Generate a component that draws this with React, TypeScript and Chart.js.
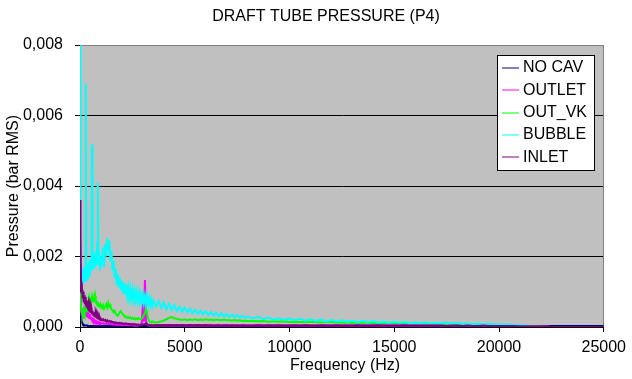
import React, { useEffect, useRef } from "react";
import { Chart, registerables } from "chart.js";

Chart.register(...registerables);

// Frequency (Hz)
const FREQ = [
  0, 25, 50, 75, 100, 125, 150, 175, 200, 225, 250, 275, 300, 325, 350, 375, 400, 425, 450, 475,
  500, 525, 550, 575, 600, 625, 650, 675, 700, 725, 750, 775, 800, 825, 850, 875, 900, 925, 950, 975, 1000,
  1050, 1100, 1150, 1200, 1250, 1300, 1350, 1400, 1450, 1500, 1550, 1600, 1650, 1700, 1750, 1800, 1850, 1900, 1950, 2000,
  2050, 2100, 2150, 2200, 2250, 2300, 2350, 2400, 2450, 2500, 2550, 2600, 2650, 2700, 2750, 2800, 2850, 2900, 2950, 3000,
  3050, 3100, 3150, 3200, 3250, 3300, 3350, 3400, 3450, 3500,
  3625, 3750, 3875, 4000, 4125, 4250, 4375, 4500, 4625, 4750, 4875, 5000, 5125, 5250, 5375, 5500, 5625, 5750,
  5875, 6000, 6125, 6250, 6375, 6500, 6625, 6750, 6875, 7000, 7125, 7250, 7375, 7500, 7625, 7750, 7875, 8000,
  8250, 8500, 8750, 9000, 9250, 9500, 9750, 10000, 10250, 10500, 10750, 11000, 11250, 11500, 11750, 12000,
  12250, 12500, 12750, 13000, 13250, 13500, 13750, 14000, 14250, 14500, 14750, 15000, 15250, 15500, 15750, 16000,
  16250, 16500, 16750, 17000, 17250, 17500, 17750, 18000, 18250, 18500, 18750, 19000, 19250, 19500, 19750, 20000,
  20250, 20500, 20750, 21000, 21250, 21500, 21750, 22000,
  22500, 23000, 23500, 24000, 24500, 25000,
];

// Pressure values in units of 1e-5 bar RMS
const UNIT = 1e-5;

const NO_CAV = [
  80, 45, 28, 18, 12, 9, 7, 6, 5, 5, 4, 4, 4, 4, 4, 3, 3, 3, 3, 3,
  3, 3, 3, 3, 3, 3, 3, 3, 3, 3, 3, 3, 3, 3, 3, 3, 3, 3, 3, 3, 3,
  3, 3, 3, 3, 3, 3, 3, 3, 3, 3, 3, 3, 3, 3, 3, 3, 3, 3, 3, 3,
  3, 3, 3, 3, 3, 3, 3, 3, 3, 3, 3, 3, 3, 3, 3, 3, 3, 3, 3, 3,
  3, 3, 3, 3, 3, 3, 3, 3, 3, 3,
  3, 3, 3, 3, 3, 3, 3, 3, 3, 3, 3, 3, 2, 3, 2, 3, 2, 3,
  2, 2, 2, 3, 2, 2, 2, 2, 2, 2, 2, 2, 2, 2, 2, 2, 2, 2,
  2, 2, 2, 2, 2, 2, 2, 2, 2, 2, 2, 2, 2, 2, 2, 2,
  2, 2, 2, 2, 2, 2, 2, 2, 2, 2, 2, 2, 2, 2, 2, 2,
  2, 2, 2, 2, 2, 2, 2, 2, 2, 2, 2, 2, 2, 2, 2, 2,
  2, 2, 2, 2, 2, 2, 2, 2,
  3, 3, 3, 3, 3, 3,
];

const OUTLET = [
  90, 60, 45, 40, 42, 38, 45, 40, 36, 40, 34, 38, 32, 35, 30, 33, 28, 30, 25, 28,
  24, 26, 22, 24, 20, 22, 18, 20, 17, 18, 15, 16, 14, 15, 13, 14, 12, 13, 11, 12, 11,
  10, 11, 9, 10, 9, 10, 8, 9, 8, 9, 7, 8, 7, 8, 6, 7, 6, 7, 6, 6,
  5, 6, 5, 6, 5, 5, 5, 6, 5, 5, 4, 5, 4, 5, 4, 5, 6, 6, 12, 67,
  15, 133, 18, 8, 5, 4, 4, 5, 4, 4,
  5, 4, 5, 4, 5, 4, 5, 4, 5, 4, 5, 4, 5, 4, 5, 4, 5, 4,
  5, 4, 4, 5, 4, 4, 5, 4, 4, 5, 4, 4, 5, 4, 4, 4, 5, 4,
  4, 5, 4, 4, 5, 4, 4, 5, 4, 4, 5, 4, 4, 4, 5, 4,
  4, 4, 5, 4, 4, 4, 4, 5, 4, 4, 4, 4, 5, 4, 4, 4,
  4, 4, 5, 4, 4, 4, 4, 4, 4, 4, 3, 4, 4, 3, 4, 3,
  3, 3, 3, 3, 3, 2, 2, 2,
  0, 0, 0, 0, 0, 0,
];

const OUT_VK = [
  100, 70, 55, 42, 38, 35, 42, 38, 46, 40, 48, 52, 45, 55, 60, 52, 66, 74, 68, 78,
  72, 84, 75, 86, 78, 80, 70, 82, 74, 88, 78, 68, 74, 62, 70, 60, 66, 58, 64, 56, 62,
  55, 62, 52, 58, 65, 55, 68, 58, 62, 50, 48, 42, 46, 38, 35, 32, 36, 42, 45, 40,
  36, 32, 28, 30, 26, 28, 25, 27, 24, 26, 23, 25, 22, 24, 22, 25, 23, 22, 24, 28,
  34, 40, 52, 42, 25, 17, 15, 14, 16, 14,
  13, 14, 16, 18, 22, 26, 28, 25, 23, 21, 20, 22, 19, 21, 20, 22, 19, 21,
  20, 22, 20, 21, 19, 21, 20, 19, 21, 19, 20, 18, 20, 18, 19, 17, 18, 17,
  17, 16, 17, 15, 16, 15, 16, 14, 15, 14, 15, 14, 14, 13, 14, 14,
  13, 13, 12, 13, 12, 12, 12, 11, 12, 11, 11, 11, 10, 11, 10, 11,
  10, 10, 9, 10, 9, 9, 9, 8, 8, 8, 7, 7, 6, 6, 5, 5,
  4, 4, 3, 3, 2, 2, 1, 1,
  0, 0, 0, 0, 0, 0,
];

const BUBBLE = [
  800, 260, 170, 135, 150, 120, 165, 125, 155, 130, 170, 691, 175, 130, 180, 135, 175, 140, 190, 145,
  180, 160, 195, 518, 200, 165, 210, 170, 200, 175, 215, 180, 205, 240, 410, 220, 175, 205, 160, 200, 170,
  190, 225, 170, 235, 200, 252, 215, 245, 185, 215, 160, 190, 140, 165, 120, 150, 112, 140, 105, 132,
  95, 125, 92, 120, 88, 112, 82, 108, 80, 104, 78, 100, 76, 98, 74, 96, 72, 92, 70, 90,
  68, 88, 66, 86, 64, 82, 62, 78, 60, 75,
  58, 74, 54, 70, 50, 66, 48, 62, 45, 58, 43, 55, 41, 52, 39, 49, 37, 47,
  36, 45, 34, 43, 33, 41, 31, 39, 30, 37, 29, 35, 28, 34, 27, 32, 26, 30,
  24, 29, 22, 27, 21, 25, 20, 24, 19, 23, 18, 22, 17, 21, 16, 20,
  16, 19, 15, 18, 14, 17, 14, 16, 13, 15, 12, 15, 12, 14, 11, 13,
  11, 13, 10, 12, 10, 12, 9, 11, 9, 10, 8, 10, 8, 9, 7, 8,
  7, 7, 6, 5, 4, 3, 2, 1,
  0, 0, 0, 0, 0, 0,
];

const INLET = [
  360, 250, 110, 95, 105, 80, 100, 70, 90, 65, 85, 60, 75, 55, 68, 50, 62, 45, 58, 42,
  55, 40, 50, 38, 46, 35, 42, 32, 38, 30, 35, 28, 32, 25, 30, 24, 27, 22, 25, 20, 23,
  19, 22, 18, 20, 16, 19, 15, 17, 14, 16, 13, 14, 12, 13, 11, 12, 10, 12, 10, 11,
  9, 10, 9, 10, 8, 9, 8, 9, 7, 8, 7, 8, 7, 7, 6, 7, 6, 7, 6, 7,
  8, 9, 10, 8, 6, 5, 6, 5, 5, 5,
  5, 6, 5, 6, 5, 6, 5, 5, 6, 5, 6, 5, 5, 6, 5, 5, 6, 5,
  5, 6, 5, 5, 4, 5, 5, 4, 5, 5, 4, 5, 4, 5, 4, 5, 4, 4,
  4, 5, 4, 5, 4, 5, 4, 4, 5, 4, 5, 4, 4, 5, 4, 4,
  5, 4, 4, 4, 5, 4, 4, 4, 5, 4, 4, 4, 4, 5, 4, 4,
  4, 4, 4, 4, 4, 3, 4, 4, 3, 4, 3, 3, 4, 3, 3, 3,
  3, 3, 3, 2, 2, 2, 2, 2,
  0, 0, 0, 0, 0, 0,
];

const SERIES_NAMES = ["NO CAV", "OUTLET", "OUT_VK", "BUBBLE", "INLET"];
const SERIES_VALUES = [NO_CAV, OUTLET, OUT_VK, BUBBLE, INLET];
const SERIES_COLORS = ["#000080", "#FF00FF", "#00FF00", "#00FFFF", "#800080"];

const X_TICKS = [0, 5000, 10000, 15000, 20000, 25000];
const Y_TICKS = [0, 0.002, 0.004, 0.006, 0.008];

const TITLE = "DRAFT TUBE PRESSURE (P4)";
const X_TITLE = "Frequency (Hz)";
const Y_TITLE = "Pressure (bar RMS)";

const FONT_FAMILY = "'Liberation Sans', Arial, sans-serif";
const FONT_SIZE = 16;

const W = 632;
const H = 379;

const decorPlugin = {
  id: "decor",
  beforeDraw(chart: any) {
    const { ctx, chartArea } = chart;
    ctx.save();
    ctx.fillStyle = "#C0C0C0";
    ctx.fillRect(chartArea.left, chartArea.top, chartArea.right - chartArea.left, chartArea.bottom - chartArea.top);
    ctx.restore();
  },
  beforeDatasetsDraw(chart: any) {
    const { ctx, chartArea } = chart;
    ctx.save();
    ctx.strokeStyle = "#808080";
    ctx.lineWidth = 1;
    ctx.beginPath();
    ctx.moveTo(chartArea.left, Math.round(chartArea.top) + 0.5);
    ctx.lineTo(Math.round(chartArea.right) - 0.5, Math.round(chartArea.top) + 0.5);
    ctx.lineTo(Math.round(chartArea.right) - 0.5, chartArea.bottom);
    ctx.stroke();
    ctx.restore();
  },
  afterDraw(chart: any) {
    const { ctx, chartArea } = chart;
    ctx.save();
    ctx.fillStyle = "#000";
    ctx.font = `${FONT_SIZE}px ${FONT_FAMILY}`;
    ctx.textAlign = "center";
    ctx.textBaseline = "middle";
    ctx.fillText(TITLE, 326, 17);
    ctx.fillText(X_TITLE, 345, 366);
    ctx.save();
    ctx.translate(14, (chartArea.top + chartArea.bottom) / 2);
    ctx.rotate(-Math.PI / 2);
    ctx.fillText(Y_TITLE, 0, 0);
    ctx.restore();

    // legend
    const bx = 497.5, by = 55.5, bw = 97, bh = 115;
    ctx.fillStyle = "#FFFFFF";
    ctx.fillRect(bx, by, bw, bh);
    ctx.strokeStyle = "#000";
    ctx.lineWidth = 1;
    ctx.strokeRect(bx, by, bw, bh);
    ctx.textAlign = "left";
    SERIES_NAMES.forEach((name, i) => {
      const y = 68 + i * 22.3;
      ctx.strokeStyle = SERIES_COLORS[i];
      ctx.lineWidth = 1;
      ctx.beginPath();
      ctx.moveTo(502, Math.round(y));
      ctx.lineTo(519, Math.round(y));
      ctx.stroke();
      ctx.fillStyle = "#000";
      ctx.fillText(name, 523, y);
    });
    ctx.restore();
  },
};

export default function App() {
  const ref = useRef<HTMLCanvasElement>(null);

  useEffect(() => {
    const canvas = ref.current;
    if (!canvas) return;
    const datasets = SERIES_NAMES.map((name, i) => ({
      label: name,
      data: FREQ.map((f, j) => ({ x: f, y: (SERIES_VALUES[i][j] ?? 0) * UNIT })),
      borderColor: SERIES_COLORS[i],
      backgroundColor: SERIES_COLORS[i],
      borderWidth: 2,
      pointRadius: 0,
      tension: 0,
      fill: false,
      order: SERIES_NAMES.length - 1 - i,
    }));

    const chart = new Chart(canvas, {
      type: "line",
      data: { datasets },
      options: {
        animation: false,
        responsive: false,
        devicePixelRatio: 1,
        parsing: false as any,
        normalized: true,
        layout: { padding: { top: 45, right: 22, left: 0, bottom: 0 } },
        plugins: {
          legend: { display: false },
          title: { display: false },
          tooltip: { enabled: false },
        },
        scales: {
          x: {
            type: "linear",
            min: 0,
            max: 25000,
            afterBuildTicks: (scale: any) => {
              scale.ticks = X_TICKS.map((v) => ({ value: v }));
            },
            afterFit: (scale: any) => {
              scale.height = 52;
            },
            ticks: {
              color: "#000",
              font: { family: FONT_FAMILY, size: FONT_SIZE },
              padding: 6,
              maxRotation: 0,
              autoSkip: false,
              callback: (v: any) => String(v),
            },
            grid: {
              drawOnChartArea: false,
              drawTicks: true,
              tickLength: 5,
              tickColor: "#000",
            },
            border: { display: true, color: "#000", width: 1 },
          },
          y: {
            type: "linear",
            min: 0,
            max: 0.008,
            afterBuildTicks: (scale: any) => {
              scale.ticks = Y_TICKS.map((v) => ({ value: v }));
            },
            afterFit: (scale: any) => {
              scale.width = 80;
            },
            ticks: {
              color: "#000",
              font: { family: FONT_FAMILY, size: FONT_SIZE },
              padding: 12,
              autoSkip: false,
              callback: (v: any) => Number(v).toFixed(3).replace(".", ","),
            },
            grid: {
              color: (ctx: any) => (ctx.tick && ctx.tick.value >= 0.008 ? "#808080" : "#000"),
              drawTicks: true,
              tickLength: 5,
              tickColor: "#000",
              lineWidth: 1,
            },
            border: { display: true, color: "#000", width: 1 },
          },
        },
      },
      plugins: [decorPlugin],
    });
    return () => chart.destroy();
  }, []);

  return (
    <div style={{ position: "fixed", left: 0, top: 0, width: W, height: H, background: "#fff" }}>
      <canvas ref={ref} width={W} height={H} style={{ display: "block", width: W, height: H }} />
    </div>
  );
}
